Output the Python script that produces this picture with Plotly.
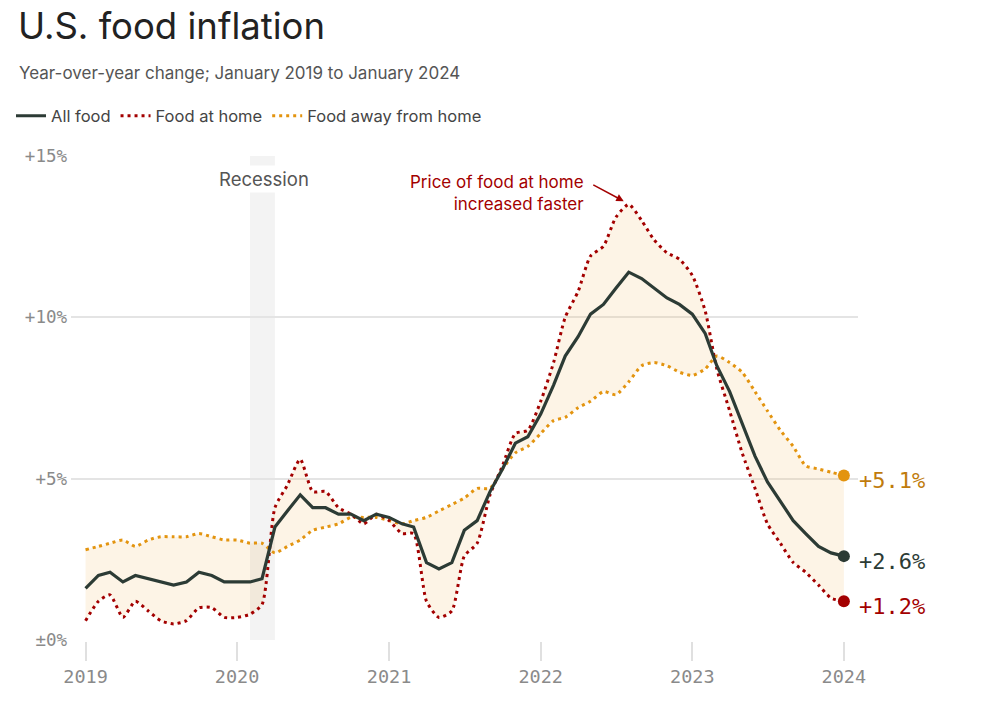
import pandas as pd
import plotly.graph_objects as go

# ---- data (year-over-year % change, monthly Jan 2019 - Jan 2024) ----
months = pd.date_range("2019-01-01", "2024-01-01", freq="MS")

all_food = [
    1.6, 2.0, 2.1, 1.8, 2.0, 1.9, 1.8, 1.7, 1.8, 2.1, 2.0, 1.8,
    1.8, 1.8, 1.9, 3.5, 4.0, 4.5, 4.1, 4.1, 3.9, 3.9, 3.7, 3.9,
    3.8, 3.6, 3.5, 2.4, 2.2, 2.4, 3.4, 3.7, 4.6, 5.3, 6.1, 6.3,
    7.0, 7.9, 8.8, 9.4, 10.1, 10.4, 10.9, 11.4, 11.2, 10.9, 10.6, 10.4,
    10.1, 9.5, 8.5, 7.7, 6.7, 5.7, 4.9, 4.3, 3.7, 3.3, 2.9, 2.7,
    2.6,
]
food_at_home = [
    0.6, 1.2, 1.4, 0.7, 1.2, 0.9, 0.6, 0.5, 0.6, 1.0, 1.0, 0.7,
    0.7, 0.8, 1.1, 4.1, 4.8, 5.6, 4.6, 4.6, 4.1, 3.9, 3.6, 3.9,
    3.7, 3.3, 3.3, 1.2, 0.7, 0.9, 2.6, 3.0, 4.5, 5.4, 6.4, 6.5,
    7.4, 8.6, 10.0, 10.8, 11.9, 12.2, 13.1, 13.5, 13.0, 12.4, 12.0, 11.8,
    11.3, 10.2, 8.4, 7.1, 5.8, 4.7, 3.6, 3.0, 2.4, 2.1, 1.7, 1.3,
    1.2,
]
food_away = [
    2.8, 2.9, 3.0, 3.1, 2.9, 3.1, 3.2, 3.2, 3.2, 3.3, 3.2, 3.1,
    3.1, 3.0, 3.0, 2.7, 2.9, 3.1, 3.4, 3.5, 3.6, 3.8, 3.8, 3.8,
    3.7, 3.6, 3.7, 3.8, 4.0, 4.2, 4.4, 4.7, 4.7, 5.3, 5.8, 6.0,
    6.4, 6.8, 6.9, 7.2, 7.4, 7.7, 7.6, 8.0, 8.5, 8.6, 8.5, 8.3,
    8.2, 8.4, 8.8, 8.6, 8.3, 7.7, 7.1, 6.5, 6.0, 5.4, 5.3, 5.2,
    5.1,
]

year_ticks = ["2019-01-01", "2020-01-01", "2021-01-01", "2022-01-01", "2023-01-01", "2024-01-01"]
year_labels = ["2019", "2020", "2021", "2022", "2023", "2024"]
y_ticks = [0, 5, 10, 15]
y_labels = ["±0%", "+5%", "+10%", "+15%"]
end_labels = ["+2.6%", "+1.2%", "+5.1%"]

recession = ("2020-02-01", "2020-04-01")

C_ALL = "#2c3b35"
C_HOME = "#a30000"
C_AWAY = "#e3940f"
C_AWAY_TXT = "#c07b0c"
MONO = "DejaVu Sans Mono"
SANS = "Inter, Roboto, sans-serif"

# page offset (browser body margin) and plot-area geometry in screen pixels
OFF = 8
PLOT_L, PLOT_R, PLOT_T, PLOT_B = 71, 858, 155, 641
PW, PH = PLOT_R - PLOT_L, PLOT_B - PLOT_T


def px_x(x):
    return (x - PLOT_L) / PW


def px_y(y):
    return (PLOT_B - y) / PH


fig = go.Figure()

# shaded envelope between the two dotted series
fig.add_trace(go.Scatter(x=months, y=food_away, mode="lines",
                         line=dict(width=0, shape="spline", smoothing=0.6),
                         showlegend=False, hoverinfo="skip"))
fig.add_trace(go.Scatter(x=months, y=food_at_home, mode="lines",
                         line=dict(width=0, shape="spline", smoothing=0.6),
                         fill="tonexty", fillcolor="rgba(242,184,90,0.15)",
                         showlegend=False, hoverinfo="skip"))

# lines
fig.add_trace(go.Scatter(x=months, y=food_away, mode="lines", name="Food away from home",
                         line=dict(color=C_AWAY, width=3, dash="3px,4px", shape="spline", smoothing=0.6),
                         legendrank=3))
fig.add_trace(go.Scatter(x=months, y=food_at_home, mode="lines", name="Food at home",
                         line=dict(color=C_HOME, width=3, dash="3px,4px", shape="spline", smoothing=0.6),
                         legendrank=2))
fig.add_trace(go.Scatter(x=months, y=all_food, mode="lines", name="All food",
                         line=dict(color=C_ALL, width=3.2),
                         legendrank=1))

# end markers + labels
for series, col, tcol, lab in [(all_food, C_ALL, C_ALL, end_labels[0]),
                               (food_at_home, C_HOME, C_HOME, end_labels[1]),
                               (food_away, C_AWAY, C_AWAY_TXT, end_labels[2])]:
    fig.add_trace(go.Scatter(x=[months[-1]], y=[series[-1]], mode="markers",
                             marker=dict(color=col, size=12), showlegend=False,
                             hoverinfo="skip"))
    fig.add_annotation(x=months[-1], y=series[-1], text=lab, showarrow=False,
                       xanchor="left", yanchor="middle", xshift=13, yshift=-5,
                       font=dict(family=MONO, size=22, color=tcol))

# recession band
fig.add_shape(type="rect", xref="x", yref="y", x0=recession[0], x1=recession[1],
              y0=0, y1=15, fillcolor="#f3f3f3", line=dict(width=0), layer="below")
fig.add_annotation(x="2020-03-05", y=14.3, text="Recession", showarrow=False,
                   font=dict(family=SANS, size=18.5, color="#555555"),
                   bgcolor="white", borderpad=2)

# callout
fig.add_annotation(x="2022-04-19", y=13.86, text="Price of food at home<br>increased faster",
                   showarrow=False, xanchor="right", yanchor="middle", align="right",
                   font=dict(family=SANS, size=17, color=C_HOME))
fig.add_annotation(x="2022-07-20", y=13.6, text="", showarrow=True, ax=-32, ay=-17,
                   arrowhead=2, arrowsize=1, arrowwidth=1.5, arrowcolor=C_HOME)

# title / subtitle
fig.update_layout(
    title=dict(text="U.S. food inflation", xref="container", yref="container",
               x=(18 - OFF) / 982, xanchor="left", y=1 - (26 - OFF) / 704, yanchor="middle",
               font=dict(family=SANS, size=36.5, color="#222222")),
)
fig.add_annotation(xref="paper", yref="paper", x=px_x(17), y=px_y(73),
                   xanchor="left", yanchor="middle", showarrow=False,
                   text="Year-over-year change; January 2019 to January 2024",
                   font=dict(family=SANS, size=17, color="#555555"))

fig.update_layout(
    width=982, height=704,
    margin=dict(l=PLOT_L - OFF, r=982 + OFF - PLOT_R, t=PLOT_T - OFF, b=704 + OFF - PLOT_B,
                autoexpand=False),
    paper_bgcolor="white", plot_bgcolor="white",
    legend=dict(orientation="h", x=px_x(11), xanchor="left",
                y=px_y(116), yanchor="middle",
                font=dict(family=SANS, size=16.5, color="#444444"),
                traceorder="normal", itemwidth=30),
    xaxis=dict(type="date", range=["2018-11-27", "2024-02-04"],
               tickvals=year_ticks, ticktext=year_labels,
               showgrid=False, zeroline=False, showline=False,
               ticks="outside", ticklen=19, tickwidth=2, tickcolor="#e0e0e0",
               tickfont=dict(family=MONO, size=18.5, color="#8a8a8a")),
    yaxis=dict(range=[-0.03, 15.03], tickvals=y_ticks, ticktext=y_labels,
               showgrid=True, gridcolor="#e4e4e4", gridwidth=1.5,
               zeroline=False, showline=False, ticks="", ticklabelstandoff=3,
               tickfont=dict(family=MONO, size=17.5, color="#8a8a8a")),
    hovermode=False,
)

fig.write_html("out.html")
